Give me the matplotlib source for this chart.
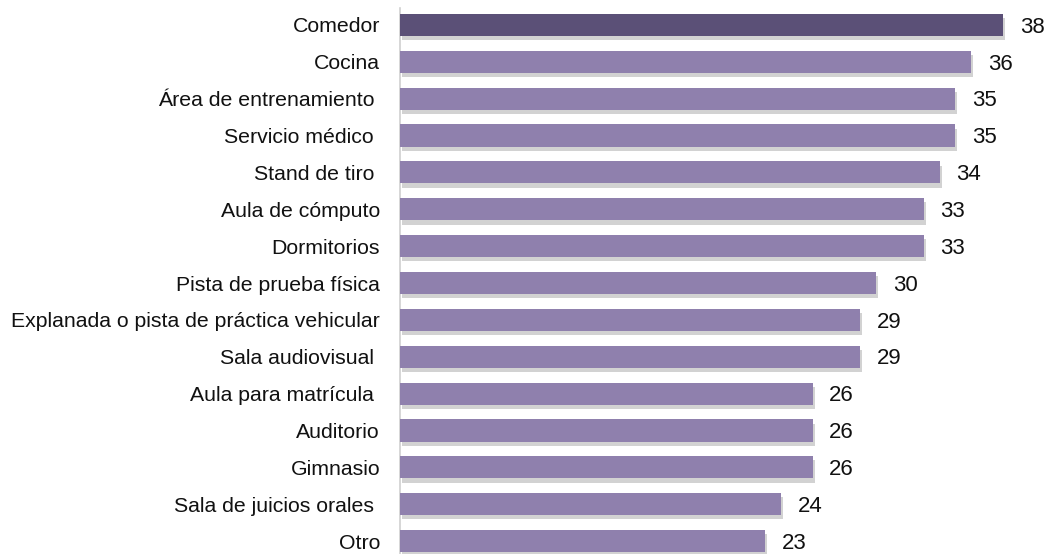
import matplotlib
matplotlib.use("Agg")
import matplotlib.pyplot as plt
import matplotlib.patheffects as pe

categories = ["Comedor", "Cocina", "Área de entrenamiento ", "Servicio médico ",
              "Stand de tiro ", "Aula de cómputo", "Dormitorios",
              "Pista de prueba física", "Explanada o pista de práctica vehicular",
              "Sala audiovisual ", "Aula para matrícula ", "Auditorio", "Gimnasio",
              "Sala de juicios orales ", "Otro"]
values = [38, 36, 35, 35, 34, 33, 33, 30, 29, 29, 26, 26, 26, 24, 23]

plt.rcParams['font.family'] = ['Liberation Sans', 'DejaVu Sans']

fig = plt.figure(figsize=(10.49, 5.54), dpi=100)
H = 554.0
ax = fig.add_axes([400/1049, 0, 649/1049, (H - 8)/H])

colors = ["#5B5077"] + ["#8F80AD"] * (len(values) - 1)
ypos = list(range(len(values)))
bars = ax.barh(ypos, values, height=0.6, color=colors, zorder=3)
for b in bars:
    b.set_path_effects([pe.SimplePatchShadow(offset=(1.5, -3), shadow_rgbFace="#909090", alpha=0.4),
                        pe.Normal()])

for y, v in zip(ypos, values):
    ax.text(v + 1.05, y + 0.06, str(v), va="center", ha="left", fontsize=16, color="#111111")

ax.set_xlim(0, 40.9)
ax.set_ylim(14.35, -0.46)
ax.set_yticks(ypos)
ax.set_yticklabels(categories, fontsize=15.3, color="#111111")
ax.tick_params(axis="y", length=0, pad=14.4)
ax.set_xticks([])
for s in ["top", "right", "bottom"]:
    ax.spines[s].set_visible(False)
ax.spines["left"].set_color("#d0d0d0")
ax.spines["left"].set_linewidth(1.2)

fig.savefig("out.png", dpi=100)
